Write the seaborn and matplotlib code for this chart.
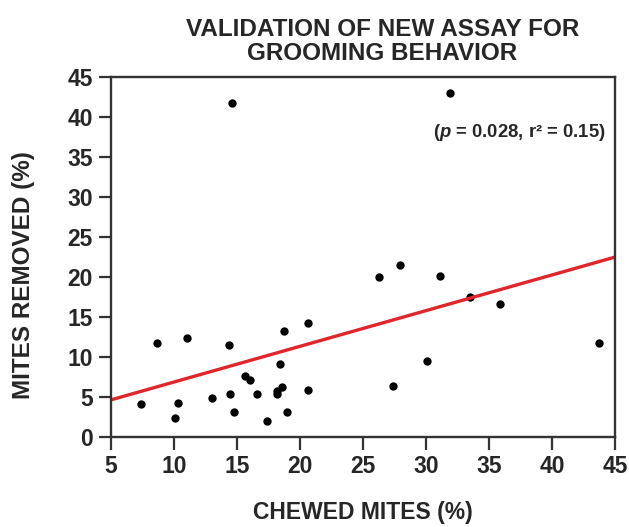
import numpy as np
import matplotlib.pyplot as plt
import pandas as pd
import seaborn as sns

# values
chewed = [7.36, 8.67, 11.0, 10.3, 10.06, 13.0, 14.34, 14.47, 14.8, 15.6,
          16.05, 16.6, 17.4, 18.15, 18.15, 18.6, 18.4, 18.75, 19.0, 20.6,
          20.66, 26.3, 27.9, 31.1, 33.5, 35.9, 27.4, 30.05, 43.7, 14.6, 31.9]
removed = [4.1, 11.7, 12.4, 4.25, 2.4, 4.9, 11.5, 5.3, 3.1, 7.6,
           7.1, 5.3, 2.0, 5.3, 5.7, 6.2, 9.1, 13.25, 3.1, 14.2,
           5.8, 20.0, 21.5, 20.05, 17.5, 16.6, 6.4, 9.5, 11.7, 41.75, 42.9]
x_ticks = [5, 10, 15, 20, 25, 30, 35, 40, 45]
y_ticks = [0, 5, 10, 15, 20, 25, 30, 35, 40, 45]

df = pd.DataFrame({'chewed': chewed, 'removed': removed})

sns.set_style('ticks')
plt.rcParams['font.family'] = ['Liberation Sans', 'DejaVu Sans']
plt.rcParams['mathtext.fontset'] = 'custom'
plt.rcParams['mathtext.it'] = 'Liberation Sans:italic:bold'

fig = plt.figure(figsize=(6.29, 5.27), dpi=100)
ax = fig.add_axes([0.1765, 0.1713, 0.8012, 0.6832])
# limits first so the fitted line spans the full axis
ax.set_xlim(5, 45)
ax.set_ylim(0, 45)

sns.regplot(data=df, x='chewed', y='removed', ax=ax, ci=None, truncate=False,
            scatter_kws={'color': 'black', 's': 36, 'linewidths': 0, 'alpha': 1},
            line_kws={'color': '#e0262c', 'linewidth': 2.4})

ax.set_xlim(5, 45)
ax.set_ylim(0, 45)
ax.set_xticks(x_ticks)
ax.set_yticks(y_ticks)
ax.tick_params(axis='both', length=9, width=1.6, color='#333333',
               labelsize=16.5, pad=4)
for lab in ax.get_xticklabels() + ax.get_yticklabels():
    lab.set_fontweight('bold')
for sp in ax.spines.values():
    sp.set_linewidth(1.7)
    sp.set_color('#333333')

ax.set_xlabel('CHEWED MITES (%)', fontsize=16.5, fontweight='bold', labelpad=17)
ax.set_ylabel('MITES REMOVED (%)', fontsize=17.5, fontweight='bold')
ax.yaxis.set_label_coords(-0.15, 0.449)
ax.set_title('VALIDATION OF NEW ASSAY FOR\nGROOMING BEHAVIOR', fontsize=17.5,
             fontweight='bold', linespacing=1.05, pad=12, x=0.538)
ax.text(44.3, 38.0, '($\\mathit{p}$ = 0.028, r² = 0.15)', ha='right', va='center',
        fontsize=13.3, fontweight='bold')

fig.savefig('out.png', dpi=100)
